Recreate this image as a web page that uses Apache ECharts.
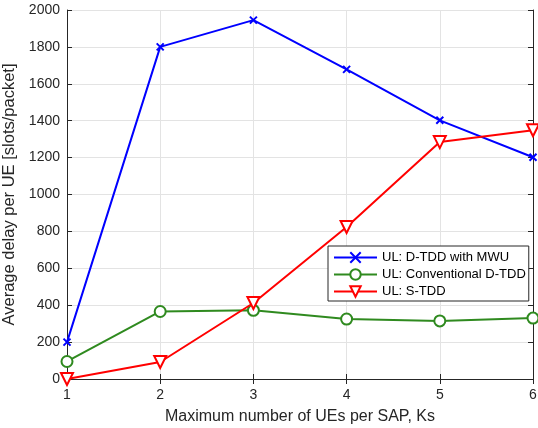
<!DOCTYPE html>
<html>
<head>
<meta charset="utf-8">
<script src="https://cdn.jsdelivr.net/npm/echarts@6.0.0/dist/echarts.min.js"></script>
<style>
  html, body { margin: 0; padding: 0; background: #fff; }
  #chart { width: 538px; height: 428px; }
</style>
</head>
<body>
<div id="chart"></div>
<script>
// values
const ksValues = [1, 2, 3, 4, 5, 6];
const dtddMwu = [200, 1800, 1945, 1678, 1402, 1202];
const convDtdd = [95, 366, 372, 325, 315, 330];
const sTdd = [0, 92, 412, 824, 1284, 1348];
const yTicks = { min: 0, max: 2000, interval: 200 };

const fontFamily = '"Liberation Sans", Arial, Helvetica, sans-serif';
const axisColor = '#262626';
const crossPath = 'path://M0,0L10,10M10,0L0,10';

function pairs(ys) {
  return ksValues.map((x, i) => [x, ys[i]]);
}

const chart = echarts.init(document.getElementById('chart'));

const axisCommon = {
  axisLine: { show: true, lineStyle: { color: axisColor, width: 1 } },
  axisTick: { show: true, inside: true, length: 5, lineStyle: { color: axisColor } },
  axisLabel: { color: axisColor, fontSize: 14, fontFamily: fontFamily, formatter: v => String(v) },
};

chart.setOption({
  backgroundColor: '#ffffff',
  animation: false,
  grid: { left: 67, right: 5, top: 10, bottom: 49, containLabel: false, outerBoundsMode: 'none' },
  legend: {
    orient: 'vertical',
    left: 328,
    top: 246,
    itemWidth: 43,
    itemHeight: 13,
    itemGap: 4,
    padding: [5, 3, 3, 5],
    backgroundColor: '#ffffff',
    borderColor: '#262626',
    borderWidth: 1,
    borderRadius: 0,
    textStyle: { color: '#000', fontSize: 13, fontFamily: fontFamily },
    data: ['UL: D-TDD with MWU', 'UL: Conventional D-TDD', 'UL: S-TDD']
  },
  xAxis: [
    Object.assign({}, axisCommon, {
      type: 'value',
      min: 1, max: 6, interval: 1,
      name: 'Maximum number of UEs per SAP, Ks',
      nameLocation: 'middle',
      nameGap: 30,
      nameTextStyle: { color: axisColor, fontSize: 16, fontFamily: fontFamily },
      splitLine: { show: true, lineStyle: { color: '#e3e3e3', width: 1 } },
      axisLabel: Object.assign({}, axisCommon.axisLabel, { margin: 9 })
    }),
    Object.assign({}, axisCommon, {
      type: 'value', position: 'top',
      min: 1, max: 6, interval: 1,
      axisLabel: { show: false },
      splitLine: { show: false }
    })
  ],
  yAxis: [
    Object.assign({}, axisCommon, {
      type: 'value',
      min: yTicks.min, max: yTicks.max, interval: yTicks.interval,
      name: 'Average delay per UE [slots/packet]',
      nameLocation: 'middle',
      nameGap: 35,
      nameTextStyle: { color: axisColor, fontSize: 16.5, fontFamily: fontFamily },
      splitLine: { show: true, lineStyle: { color: '#e3e3e3', width: 1 } },
      axisLabel: Object.assign({}, axisCommon.axisLabel, { margin: 7 })
    }),
    Object.assign({}, axisCommon, {
      type: 'value', position: 'right',
      min: yTicks.min, max: yTicks.max, interval: yTicks.interval,
      axisLabel: { show: false },
      splitLine: { show: false }
    })
  ],
  series: [
    {
      name: 'UL: D-TDD with MWU',
      type: 'line',
      data: pairs(dtddMwu),
      symbol: crossPath,
      symbolSize: 7,
      lineStyle: { color: '#0000ff', width: 2 },
      itemStyle: { color: '#0000ff', borderColor: '#0000ff', borderWidth: 2 },
      z: 3
    },
    {
      name: 'UL: Conventional D-TDD',
      type: 'line',
      data: pairs(convDtdd),
      symbol: 'emptyCircle',
      symbolSize: 11,
      lineStyle: { color: '#2f8a1f', width: 2 },
      itemStyle: { color: '#2f8a1f', borderColor: '#2f8a1f', borderWidth: 2 },
      z: 2
    },
    {
      name: 'UL: S-TDD',
      type: 'line',
      data: pairs(sTdd),
      symbol: 'emptyTriangle',
      symbolRotate: 180,
      symbolSize: 12,
      lineStyle: { color: '#ff0000', width: 2 },
      itemStyle: { color: '#ff0000', borderColor: '#ff0000', borderWidth: 2 },
      z: 4
    }
  ]
});
</script>
</body>
</html>
